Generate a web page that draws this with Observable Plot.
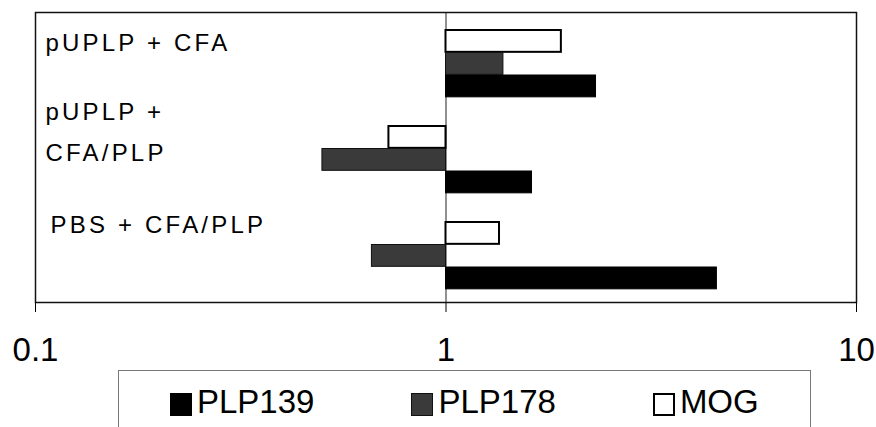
<!DOCTYPE html>
<html>
<head>
<meta charset="utf-8">
<script src="https://cdn.jsdelivr.net/npm/d3@7"></script>
<script src="https://cdn.jsdelivr.net/npm/@observablehq/plot@0.6"></script>
<style>
  html, body { margin: 0; padding: 0; background: #fff; }
  body { width: 876px; height: 427px; overflow: hidden; position: relative; font-family: "Liberation Sans", Arial, sans-serif; }
  #chart svg { display: block; }
  #chart g[aria-label="text"] text { letter-spacing: 3.2px; }
  #legend {
    position: absolute; left: 118px; top: 370px; width: 693px; height: 90px;
    border: 1px solid #777; box-sizing: border-box;
    display: flex; align-items: flex-start; padding-left: 51px; padding-top: 12px;
    font-size: 33px; color: #000;
  }
  .item { display: flex; align-items: center; }
  .sw { width: 22px; height: 23px; box-sizing: border-box; margin-right: 5px; margin-top: 4px; }
  .item + .item { margin-left: 97px; }
</style>
</head>
<body>
<div id="chart"></div>
<div id="legend"></div>
<script>
const groups = ["pUPLP + CFA", "pUPLP +\nCFA/PLP", "PBS + CFA/PLP"];
const series = ["PLP139", "PLP178", "MOG"];
const plp139 = [2.32, 1.62, 4.57];
const plp178 = [1.38, 0.50, 0.66];
const mog = [1.91, 0.726, 1.35];
const xTicks = [0.1, 1, 10];

const seriesStyle = {
  PLP139: {fill: "#000", stroke: "#000", strokeWidth: 1},
  PLP178: {fill: "#3a3a3a", stroke: "#111", strokeWidth: 1},
  MOG: {fill: "#fff", stroke: "#000", strokeWidth: 2}
};

const rows = groups.map((g, i) => ({group: g, PLP139: plp139[i], PLP178: plp178[i], MOG: mog[i]}));

const W = 876, H = 370, mT = 12, mB = 68, mL = 35, mR = 20;
const band = (H - mT - mB) / groups.length;
// slices of each group band (top→bottom: MOG, PLP178, PLP139)
const slices = {MOG: [17, 39.5], PLP178: [39.5, 62], PLP139: [62, 84.5]};

const barMarks = ["MOG", "PLP178", "PLP139"].map(s => Plot.barX(rows, {
  y: "group", x1: 1, x2: s,
  insetTop: slices[s][0], insetBottom: band - slices[s][1],
  ...seriesStyle[s]
}));

const labelOffsets = [{dx: 10, dy: -24}, {dx: 10, dy: -30}, {dx: 15, dy: -34}];
const labelMarks = groups.map((g, i) => Plot.text([rows[i]], {
  y: "group", text: "group", frameAnchor: "left", textAnchor: "start",
  fontSize: 24, lineHeight: 1.7, fill: "#000",
  dx: labelOffsets[i].dx, dy: labelOffsets[i].dy
}));

const chart = Plot.plot({
  width: W, height: H,
  marginTop: mT, marginBottom: mB, marginLeft: mL, marginRight: mR,
  style: {fontFamily: "Liberation Sans, Arial, sans-serif", fontSize: "33px", color: "#000", background: "#fff"},
  x: {type: "log", domain: [0.1, 10], ticks: xTicks, tickFormat: d => String(d), tickSize: 10, tickPadding: 25, label: null},
  y: {domain: groups, padding: 0, axis: null},
  marks: [
    Plot.ruleX([1], {stroke: "#222", strokeWidth: 1}),
    ...barMarks,
    ...labelMarks,
    Plot.frame({stroke: "#111", strokeWidth: 1.5})
  ]
});
document.getElementById("chart").appendChild(chart);

const legend = document.getElementById("legend");
series.forEach(s => {
  const it = document.createElement("div");
  it.className = "item";
  const sw = document.createElement("div");
  sw.className = "sw";
  sw.style.background = seriesStyle[s].fill;
  sw.style.border = `${seriesStyle[s].strokeWidth}px solid ${seriesStyle[s].stroke}`;
  const t = document.createElement("span");
  t.textContent = s;
  it.appendChild(sw); it.appendChild(t);
  legend.appendChild(it);
});
</script>
</body>
</html>
